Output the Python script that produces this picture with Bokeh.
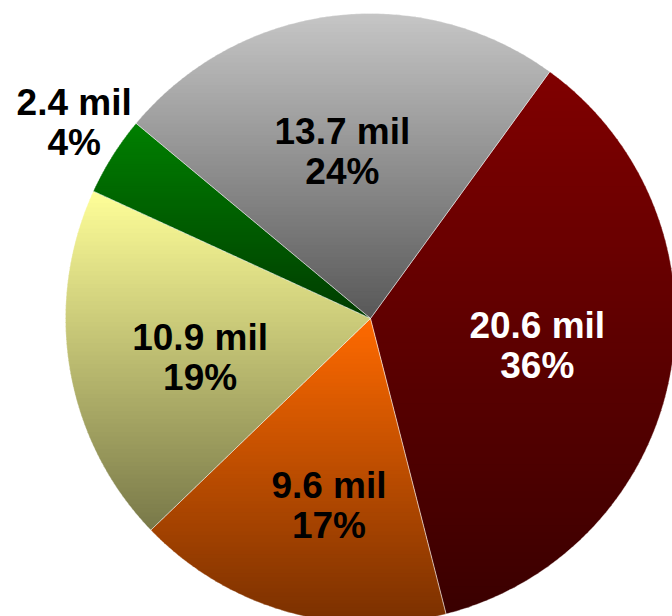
import math
from bokeh.plotting import figure
from bokeh.models import Range1d
from bokeh.embed import file_html
from bokeh.resources import INLINE
from bokeh.core.properties import value

# ---- data ----
names = ["Red", "Orange", "Yellow", "Green", "Grey"]
values = [20.6, 9.6, 10.9, 2.4, 13.7]
top_colors = ["#800000", "#ff6a00", "#ffff99", "#008000", "#c6c6c6"]
bottom_colors = ["#3a0000", "#7a3000", "#787848", "#003c00", "#585858"]
text_colors = ["#ffffff", "#000000", "#000000", "#000000", "#000000"]

# ---- layout ----
W, H = 672, 616
CX, CY, R = 370, 318, 305
START_DEG = 36.0
label_r = [0.56, 0.63, 0.60, 1.16, 0.56]
label_nudge = [(-1, -5), (11, 2), (10, 8), (3, -7), (-7, 2)]
FONT = "Liberation Sans"
FS = "37px"

p = figure(width=W, height=H, output_backend="svg", toolbar_location=None,
           x_range=Range1d(0, W), y_range=Range1d(H, 0), min_border=0)
p.axis.visible = False
p.xgrid.visible = False
p.ygrid.visible = False
p.outline_line_color = None
p.background_fill_color = "white"
p.border_fill_color = "white"


def hex2rgb(h):
    h = h.lstrip("#")
    return tuple(int(h[i:i + 2], 16) for i in (0, 2, 4))


def mix(c1, c2, t):
    a, b = hex2rgb(c1), hex2rgb(c2)
    return "#%02x%02x%02x" % tuple(int(round(a[i] + (b[i] - a[i]) * t)) for i in range(3))


def clip(poly, y0, keep_above):
    out = []
    n = len(poly)
    for i in range(n):
        cur = poly[i]
        prv = poly[i - 1]
        inc = cur[1] >= y0 if keep_above else cur[1] <= y0
        inp = prv[1] >= y0 if keep_above else prv[1] <= y0
        if inc:
            if not inp:
                t = (y0 - prv[1]) / (cur[1] - prv[1])
                out.append((prv[0] + t * (cur[0] - prv[0]), y0))
            out.append(cur)
        elif inp:
            t = (y0 - prv[1]) / (cur[1] - prv[1])
            out.append((prv[0] + t * (cur[0] - prv[0]), y0))
    return out


total = sum(values)
ang = START_DEG
band_xs, band_ys, band_cols = [], [], []
out_xs, out_ys = [], []
label_pts = []
for i, v in enumerate(values):
    span = v / total * 360.0
    a0, a1 = ang, ang + span
    steps = max(8, int(span * 2))
    poly = [(CX, CY)]
    for k in range(steps + 1):
        th = math.radians(a0 + (a1 - a0) * k / steps)
        poly.append((CX + R * math.sin(th), CY - R * math.cos(th)))
    ys = [pt[1] for pt in poly]
    ymin, ymax = min(ys), max(ys)
    nb = 80
    for b in range(nb):
        y0 = ymin + (ymax - ymin) * b / nb - 0.6
        y1 = ymin + (ymax - ymin) * (b + 1) / nb + 0.6
        part = clip(poly, y0, True)
        if len(part) < 3:
            continue
        part = clip(part, y1, False)
        if len(part) < 3:
            continue
        band_xs.append([q[0] for q in part])
        band_ys.append([q[1] for q in part])
        band_cols.append(mix(top_colors[i], bottom_colors[i], (b + 0.5) / nb))
    out_xs.append([q[0] for q in poly])
    out_ys.append([q[1] for q in poly])
    mid = math.radians((a0 + a1) / 2)
    rr = label_r[i] * R
    label_pts.append((CX + rr * math.sin(mid) + label_nudge[i][0],
                      CY - rr * math.cos(mid) + label_nudge[i][1]))
    ang = a1

p.patches(band_xs, band_ys, fill_color=band_cols, line_color=None)
p.patches(out_xs, out_ys, fill_alpha=0, line_color="#ffffff", line_alpha=0.35, line_width=1)

for i, v in enumerate(values):
    x, y = label_pts[i]
    pct = "%d%%" % round(v / total * 100)
    p.text(x=[x], y=[y], text=["%.1f mil" % v], text_align="center", text_baseline="middle",
           y_offset=-20, text_font=value(FONT), text_font_style="bold",
           text_font_size=FS, text_color=text_colors[i])
    p.text(x=[x], y=[y], text=[pct], text_align="center", text_baseline="middle",
           y_offset=20, text_font=value(FONT), text_font_style="bold",
           text_font_size=FS, text_color=text_colors[i])

open("out.html", "w").write(file_html(p, INLINE))
